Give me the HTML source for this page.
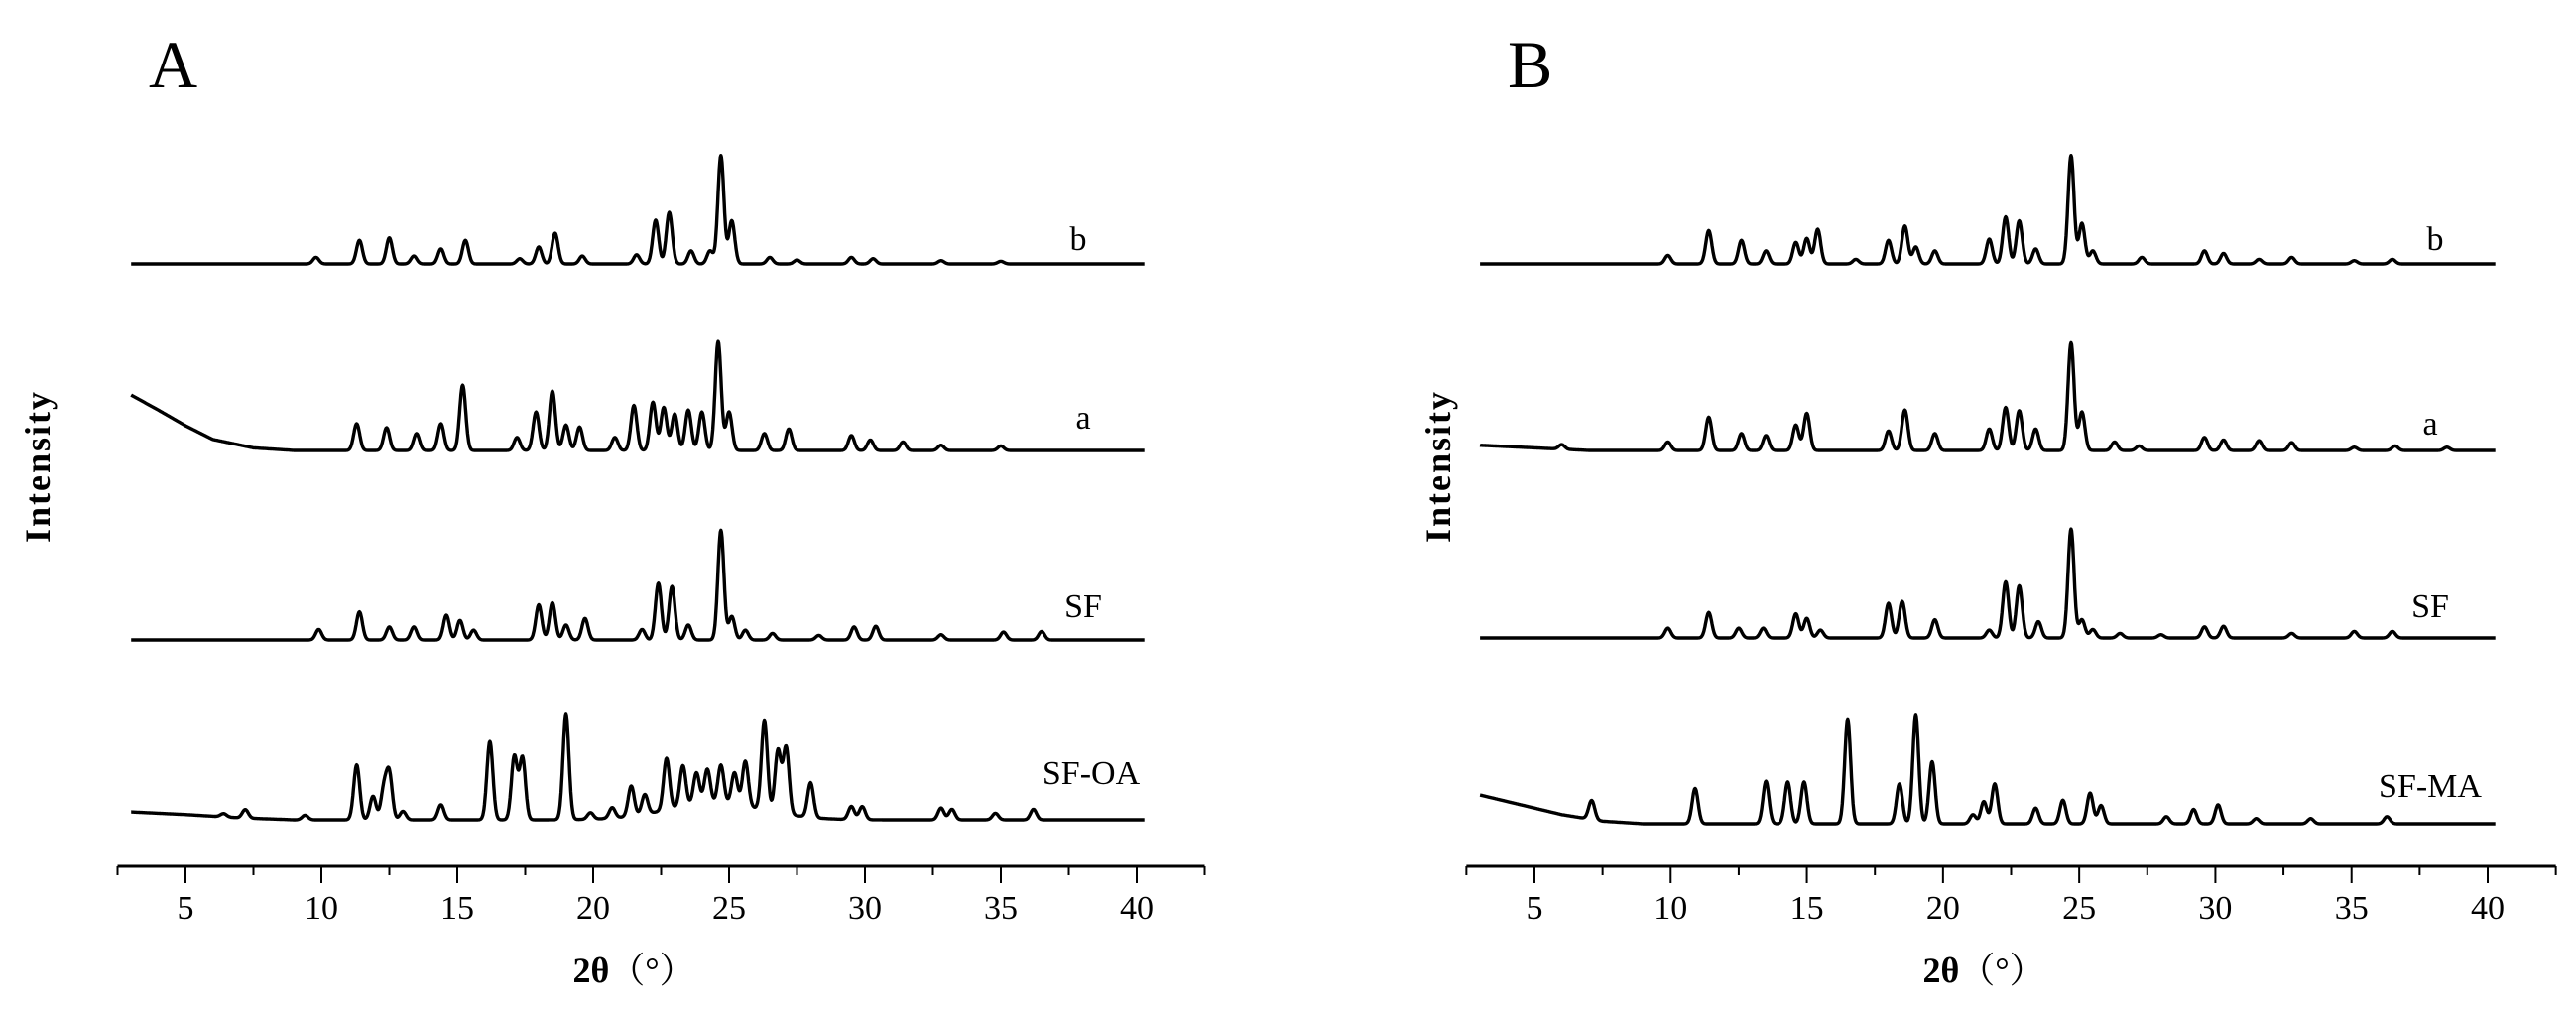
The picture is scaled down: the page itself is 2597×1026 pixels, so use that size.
<!DOCTYPE html>
<html><head><meta charset="utf-8"><style>
html,body{margin:0;padding:0;background:#fff}
svg{display:block}
text{font-family:"Liberation Serif","Noto Serif CJK SC",serif;fill:#000}
</style></head><body>
<svg id="chart" width="2597" height="1026" viewBox="0 0 2597 1026" xmlns="http://www.w3.org/2000/svg"></svg>
<script>
// ---- data (2θ in degrees, intensity in arbitrary units) ----
const tickValues = [5,10,15,20,25,30,35,40];
const tickLabels = ["5","10","15","20","25","30","35","40"];
const panelLabels = ["A","B"];
const seriesNamesA = ["b","a","SF","SF-OA"];
const seriesNamesB = ["b","a","SF","SF-MA"];
// peaks: [2θ, height, width]
const peaksAb = [[9.8,10],[11.4,36],[12.5,40],[13.4,12],[14.4,23],[15.3,36],[17.3,8],[18.0,26],[18.6,47],[19.6,12],[21.6,14],[22.3,67],[22.8,79],[23.6,20],[24.3,20],[24.7,166],[25.1,66],[26.5,10],[27.5,6],[29.5,10],[30.3,8],[32.8,5],[35,4]];
const peaksAa = [[11.3,41],[12.4,35],[13.5,26],[14.4,41],[15.2,100],[17.2,20],[17.9,59],[18.5,91],[19.0,39],[19.5,36],[20.8,20],[21.5,69],[22.2,74],[22.6,66],[23.0,56],[23.5,62],[24.0,59],[24.6,167],[25.0,59],[26.3,26],[27.2,33],[29.5,23],[30.2,16],[31.4,13],[32.8,8],[35,7]];
const peaksASF = [[9.9,16],[11.4,43],[12.5,20],[13.4,20],[14.6,38],[15.1,30],[15.6,15],[18.0,54],[18.5,57],[19.0,23],[19.7,33],[21.8,16],[22.4,87],[22.9,82],[23.5,23],[24.7,168],[25.1,36],[25.6,15],[26.6,10],[28.3,7],[29.6,20],[30.4,21],[32.8,8],[35.1,12],[36.5,13]];
const peaksAOA = [[6.4,5],[7.2,13],[9.4,7],[11.3,84],[11.9,36],[12.3,46],[12.5,69],[13.0,13],[14.4,23],[16.2,120],[17.1,97],[17.4,95],[19.0,161],[19.9,10],[20.7,16],[21.4,46],[21.9,30],[22.7,79],[23.3,63],[23.8,49],[24.2,53],[24.7,59],[25.2,49],[25.6,69],[26.3,136],[26.8,95],[27.1,102],[28.0,53],[29.5,20],[29.9,20],[32.8,18],[33.2,16],[34.8,10],[36.2,16],[24.5,25,1.8]];
const peaksBb = [[9.9,13],[11.4,51],[12.6,36],[13.5,20],[14.6,33],[15.0,39],[15.4,53],[16.8,7],[18.0,36],[18.6,58],[19.0,26],[19.7,20],[21.7,38],[22.3,72],[22.8,66],[23.4,23],[24.7,166],[25.1,62],[25.5,20],[27.3,10],[29.6,20],[30.3,16],[31.6,7],[32.8,10],[35.1,5],[36.5,7]];
const peaksBa = [[6.0,7],[9.9,13],[11.4,51],[12.6,26],[13.5,23],[14.6,39],[15.0,57],[18.0,30],[18.6,62],[19.7,26],[21.7,33],[22.3,66],[22.8,61],[23.4,33],[24.7,165],[25.1,59],[26.3,13],[27.2,7],[29.6,20],[30.3,16],[31.6,15],[32.8,12],[35.1,5],[36.6,7],[38.5,5]];
const peaksBSF = [[9.9,15],[11.4,39],[12.5,15],[13.4,15],[14.6,37],[15.0,30],[15.5,12],[18.0,53],[18.5,56],[19.7,28],[21.7,12],[22.3,86],[22.8,80],[23.5,25],[24.7,167],[25.1,28],[25.5,13],[26.5,7],[28.0,5],[29.6,17],[30.3,18],[32.8,7],[35.1,10],[36.5,10]];
const peaksBMA = [[7.1,29],[10.9,54],[13.5,65],[14.3,64],[14.9,64],[16.5,159],[18.4,61],[19.0,166],[19.6,95],[21.1,14],[21.5,34],[21.9,61],[23.4,24],[24.4,36],[25.4,47],[25.8,28],[28.2,11],[29.2,22],[30.1,29],[31.5,8],[33.5,8],[36.3,11]];
// background control points [2θ, intensity]
const bgNone = [[3,0],[40.3,0]];
const bgAa = [[3,85],[4,62],[5,38],[6,17],[7.5,4],[9,0],[40.3,0]];
const bgAOA = [[3,12],[5,8],[7,3],[9,0],[40.3,0]];
const bgBa = [[3,8],[5,4],[7,0],[40.3,0]];
const bgBMA = [[3,44],[4,34],[5,24],[6,14],[7.5,4],[9,0],[40.3,0]];

// ---- layout ----
const NS="http://www.w3.org/2000/svg";
const svg=document.getElementById('chart');
function mk(tag,attrs,parent){const e=document.createElementNS(NS,tag);for(const k in attrs)e.setAttribute(k,attrs[k]);(parent||svg).appendChild(e);return e;}
const panels=[
 {x5:187,x40:1146,label:panelLabels[0],lx:150,names:seriesNamesA,
  series:[[peaksAb,bgNone,266],[peaksAa,bgAa,454],[peaksASF,bgNone,645],[peaksAOA,bgAOA,826]],
  labelPos:[[1087,252],[1092,432],[1092,622],[1100,790]]},
 {x5:1547,x40:2508,label:panelLabels[1],lx:1520,names:seriesNamesB,
  series:[[peaksBb,bgNone,266],[peaksBa,bgBa,454],[peaksBSF,bgNone,643],[peaksBMA,bgBMA,830]],
  labelPos:[[2455,252],[2450,438],[2450,622],[2450,803]]}
];
const yUnit=1/1.52;
function bgAt(bg,t){for(let i=0;i<bg.length-1;i++){if(t>=bg[i][0]&&t<=bg[i+1][0]){const f=(t-bg[i][0])/(bg[i+1][0]-bg[i][0]);return bg[i][1]+f*(bg[i+1][1]-bg[i][1]);}}return 0;}
panels.forEach((p,pi)=>{
  const g=mk('g',{});
  
  
  const sx=v=>p.x5+(v-5)*(p.x40-p.x5)/35;
  const axisY=873;
  const ax=mk('line',{x1:sx(2.5),x2:sx(42.5),y1:axisY,y2:axisY,stroke:'#000','stroke-width':3},g);
  
  
  for(let v=2.5;v<=42.51;v+=2.5){
    const major=Math.abs(v%5)<0.01;
    const t=mk('line',{x1:sx(v),x2:sx(v),y1:axisY,y2:axisY+(major?17:9),stroke:'#000','stroke-width':2},g);
    
    
  }
  tickValues.forEach((v,i)=>{
    const t=mk('text',{x:sx(v),y:926,'font-size':34,'text-anchor':'middle'},g);
    t.textContent=tickLabels[i];
    
    
  });
  const xt=mk('text',{x:sx(21.5),y:990,'font-size':36,'text-anchor':'middle'},g);
  xt.innerHTML='<tspan font-weight="bold">2θ</tspan>（°）';
  
  
  const pl=mk('text',{x:p.lx,y:88,'font-size':68},g);
  pl.textContent=p.label;
  
  
  const yl=mk('text',{x:0,y:0,'font-size':36,'font-weight':'bold','text-anchor':'middle','letter-spacing':'2',transform:`translate(${p.lx-100+ (pi?42:0)},470) rotate(-90)`},g);
  yl.textContent='Intensity';
  
  
  p.series.forEach((s,si)=>{
    const [peaks,bg,base]=s;
    let d='';
    for(let t=3;t<=40.3;t+=0.02){
      let I=bgAt(bg,t);
      peaks.forEach(pk=>{const w=pk[2]||0.11;I+=pk[1]*Math.exp(-0.5*Math.pow((t-pk[0])/w,2));});
      d+=(d?'L':'M')+sx(t).toFixed(1)+','+(base-I*yUnit).toFixed(1);
    }
    const path=mk('path',{d:d,fill:'none',stroke:'#000','stroke-width':3.4,'stroke-linejoin':'round'},g);
    
    
    const lt=mk('text',{x:p.labelPos[si][0],y:p.labelPos[si][1],'font-size':34,'text-anchor':'middle'},g);
    lt.textContent=p.names[si];
    
    
  });
});
</script>
</body></html>
